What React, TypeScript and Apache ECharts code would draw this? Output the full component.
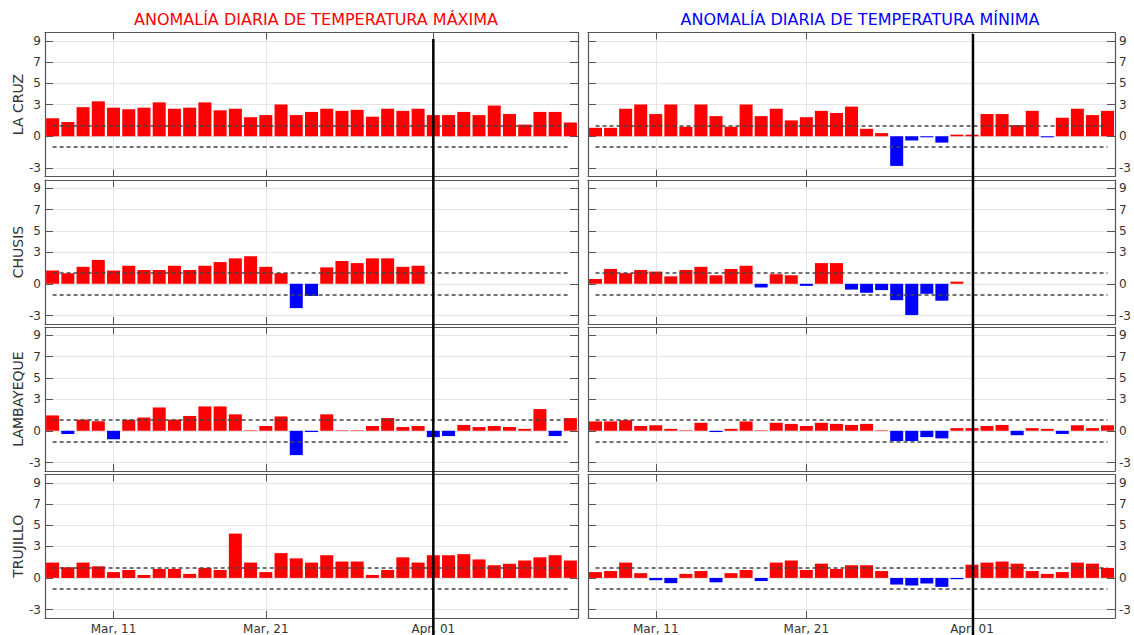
import React, { useEffect, useRef } from "react";
import * as echarts from "echarts";

const dates = [
  "Mar, 07", "Mar, 08", "Mar, 09", "Mar, 10", "Mar, 11", "Mar, 12", "Mar, 13", "Mar, 14", "Mar, 15", "Mar, 16",
  "Mar, 17", "Mar, 18", "Mar, 19", "Mar, 20", "Mar, 21", "Mar, 22", "Mar, 23", "Mar, 24", "Mar, 25", "Mar, 26",
  "Mar, 27", "Mar, 28", "Mar, 29", "Mar, 30", "Mar, 31", "Apr, 01", "Apr, 02", "Apr, 03", "Apr, 04", "Apr, 05",
  "Apr, 06", "Apr, 07", "Apr, 08", "Apr, 09", "Apr, 10",
];
const tickDates = ["Mar, 11", "Mar, 21", "Apr, 01"];
const markerDate = "Apr, 01";
const yTicks = [-3, 0, 3, 5, 7, 9];
const thresholds = [1, -1];
const stations = ["LA CRUZ", "CHUSIS", "LAMBAYEQUE", "TRUJILLO"];
const titles = ["ANOMALÍA DIARIA DE TEMPERATURA MÁXIMA", "ANOMALÍA DIARIA DE TEMPERATURA MÍNIMA"];

const laCruzMax = [1.7, 1.35, 2.75, 3.3, 2.7, 2.55, 2.7, 3.2, 2.6, 2.7, 3.2, 2.45, 2.6, 1.8, 2.0, 3.0, 2.0, 2.3, 2.6, 2.4, 2.5, 1.85, 2.6, 2.4, 2.6, 2.0, 2.0, 2.3, 2.0, 2.9, 2.1, 1.1, 2.3, 2.3, 1.3];
const laCruzMin = [0.8, 0.8, 2.6, 3.0, 2.1, 3.0, 0.9, 3.0, 1.9, 0.9, 3.0, 1.9, 2.6, 1.5, 1.8, 2.4, 2.2, 2.8, 0.7, 0.3, -2.8, -0.4, -0.1, -0.6, 0.15, 0.15, 2.1, 2.1, 1.05, 2.4, -0.1, 1.75, 2.6, 2.0, 2.4];
const chusisMax = [1.25, 1.0, 1.6, 2.25, 1.25, 1.7, 1.3, 1.3, 1.7, 1.3, 1.7, 2.05, 2.4, 2.6, 1.6, 1.0, -2.3, -1.15, 1.55, 2.15, 1.95, 2.4, 2.4, 1.6, 1.7, null, null, null, null, null, null, null, null, null, null];
const chusisMin = [0.45, 1.4, 1.0, 1.3, 1.15, 0.7, 1.3, 1.6, 0.8, 1.4, 1.7, -0.35, 0.9, 0.8, -0.2, 1.95, 1.95, -0.55, -0.85, -0.6, -1.55, -2.95, -0.95, -1.6, 0.2, null, null, null, null, null, null, null, null, null, null];
const lambayequeMax = [1.45, -0.3, 1.05, 0.9, -0.8, 1.05, 1.25, 2.2, 1.05, 1.4, 2.3, 2.3, 1.55, 0.05, 0.45, 1.35, -2.3, -0.12, 1.55, 0.05, 0.05, 0.45, 1.2, 0.35, 0.45, -0.6, -0.5, 0.55, 0.35, 0.45, 0.35, 0.18, 2.05, -0.5, 1.2];
const lambayequeMin = [0.88, 0.88, 1.0, 0.45, 0.52, 0.18, 0.05, 0.75, -0.12, 0.18, 0.88, 0.05, 0.75, 0.65, 0.45, 0.75, 0.65, 0.55, 0.65, 0.05, -0.97, -0.97, -0.6, -0.72, 0.25, 0.25, 0.45, 0.55, -0.42, 0.25, 0.18, -0.3, 0.52, 0.25, 0.52];
const trujilloMax = [1.45, 1.0, 1.45, 1.1, 0.55, 0.75, 0.28, 0.85, 0.85, 0.38, 0.95, 0.75, 4.2, 1.45, 0.55, 2.35, 1.85, 1.45, 2.15, 1.55, 1.55, 0.28, 0.75, 1.95, 1.45, 2.15, 2.15, 2.25, 1.75, 1.2, 1.35, 1.65, 1.95, 2.15, 1.65];
const trujilloMin = [0.55, 0.65, 1.45, 0.45, -0.22, -0.5, 0.38, 0.65, -0.42, 0.45, 0.75, -0.3, 1.45, 1.65, 0.75, 1.35, 0.85, 1.2, 1.2, 0.65, -0.63, -0.72, -0.53, -0.85, -0.12, 1.25, 1.45, 1.55, 1.35, 0.65, 0.38, 0.55, 1.45, 1.35, 0.95];

const panels: (number | null)[][][] = [
  [laCruzMax, laCruzMin],
  [chusisMax, chusisMin],
  [lambayequeMax, lambayequeMin],
  [trujilloMax, trujilloMin],
];

const FONT = "DejaVu Sans";
const RED = "#ff0000";
const BLUE = "#0000ff";
const FRAME = "#555555";
const GRIDC = "#e4e4e4";

export default function App() {
  const ref = useRef<HTMLDivElement>(null);
  useEffect(() => {
    if (!ref.current) return;
    const chart = echarts.init(ref.current, null, { renderer: "svg" });
    const tickIdx = tickDates.map((d) => dates.indexOf(d));
    const tops = [32.5, 180, 327, 474.5];
    const lefts = [45, 588];
    const widths = [533, 532];
    const grids: any[] = [];
    const xAxes: any[] = [];
    const yAxes: any[] = [];
    const series: any[] = [];
    for (let r = 0; r < 4; r++) {
      for (let c = 0; c < 2; c++) {
        const gi = r * 2 + c;
        grids.push({ left: lefts[c], top: tops[r], width: widths[c], height: 144 });
        const xBase = {
          type: "value",
          gridIndex: gi,
          min: -0.5,
          max: dates.length - 0.5,
          axisLine: { show: true, onZero: false, lineStyle: { color: FRAME, width: 1.2 } },
          axisTick: { show: true, inside: true, length: 7, customValues: tickIdx, lineStyle: { color: FRAME, width: 1 } },
        };
        xAxes.push({
          ...xBase,
          position: "bottom",
          axisLabel: {
            show: r === 3,
            customValues: tickIdx,
            formatter: (v: number) => dates[Math.round(v)],
            color: "#333",
            fontSize: 12,
            fontFamily: FONT,
            margin: 5,
          },
          splitLine: { show: true, lineStyle: { color: GRIDC, width: 1 } },
        });
        xAxes.push({
          ...xBase,
          position: "top",
          axisLabel: { show: false },
          splitLine: { show: false },
        });
        const yBase = {
          type: "value",
          gridIndex: gi,
          min: -3.8,
          max: 9.8,
          axisLine: { show: true, onZero: false, lineStyle: { color: FRAME, width: 1.2 } },
          axisTick: { show: true, inside: true, length: 8, customValues: yTicks, lineStyle: { color: FRAME, width: 1 } },
        };
        yAxes.push({
          ...yBase,
          position: "left",
          name: c === 0 ? stations[r] : "",
          nameLocation: "middle",
          nameGap: 18,
          nameRotate: 90,
          nameTextStyle: { fontSize: 14, color: "#333", fontFamily: FONT },
          axisLabel: { show: c === 0, customValues: yTicks, color: "#333", fontSize: 12, fontFamily: FONT, margin: 4 },
          splitLine: { show: true, lineStyle: { color: GRIDC, width: 1 } },
        });
        yAxes.push({
          ...yBase,
          position: "right",
          axisLabel: { show: c === 1, customValues: yTicks, color: "#333", fontSize: 12, fontFamily: FONT, margin: 4 },
          splitLine: { show: false },
        });
        const vals = panels[r][c];
        const data = vals
          .map((v, i) => (v === null ? null : [i, v]))
          .filter((d) => d !== null);
        series.push({
          type: "bar",
          xAxisIndex: gi * 2,
          yAxisIndex: gi * 2,
          barWidth: 13,
          data,
          itemStyle: {
            color: (p: any) => (p.value[1] >= 0 ? RED : BLUE),
          },
          markLine: {
            silent: true,
            symbol: "none",
            label: { show: false },
            lineStyle: { color: "#444", type: [4, 3], width: 1.5 },
            data: thresholds.map((t) => [
              { coord: [0, t] },
              { coord: [dates.length - 1, t] },
            ]),
          },
        });
      }
    }
    const option: any = {
      animation: false,
      textStyle: { fontFamily: FONT },
      title: [
        { text: titles[0], left: 311, top: 6, textAlign: "center", textStyle: { color: RED, fontSize: 16, fontWeight: "normal", fontFamily: FONT } },
        { text: titles[1], left: 855, top: 6, textAlign: "center", textStyle: { color: BLUE, fontSize: 16, fontWeight: "normal", fontFamily: FONT } },
      ],
      grid: grids,
      xAxis: xAxes,
      yAxis: yAxes,
      series,
    };
    chart.setOption(option);
    const mIdx = dates.indexOf(markerDate);
    const xl = chart.convertToPixel({ xAxisIndex: 0 }, mIdx) as number;
    const xr = chart.convertToPixel({ xAxisIndex: 2 }, mIdx) as number;
    chart.setOption({
      graphic: [
        { type: "line", z: 100, shape: { x1: xl, y1: 39, x2: xl, y2: 635 }, style: { stroke: "#000", lineWidth: 2.5 } },
        { type: "line", z: 100, shape: { x1: xr + 1, y1: 34, x2: xr + 1, y2: 635 }, style: { stroke: "#000", lineWidth: 2.5 } },
      ],
    });
    return () => chart.dispose();
  }, []);
  return (
    <div
      ref={ref}
      style={{ position: "fixed", left: 0, top: 0, width: 1134, height: 635, background: "#fff" }}
    />
  );
}
